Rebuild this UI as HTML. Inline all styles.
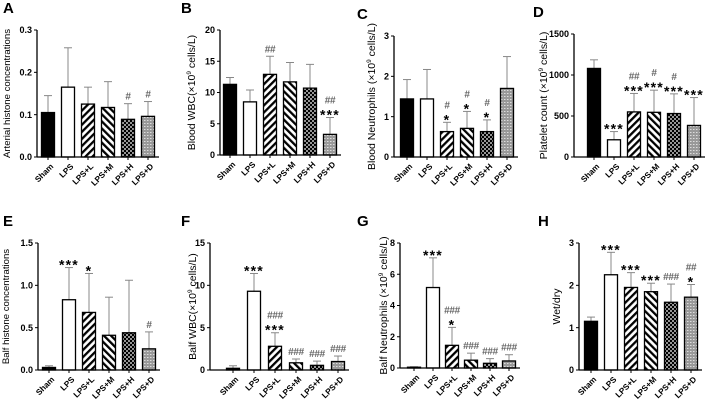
<!DOCTYPE html>
<html><head><meta charset="utf-8"><style>
body{margin:0;background:#fff}
svg{display:block;font-family:"Liberation Sans",Arial,sans-serif}
</style></head><body>
<svg id="fig" width="708" height="405" viewBox="0 0 708 405">
<defs>
<pattern id="pL" width="5" height="5" patternUnits="userSpaceOnUse" patternTransform="rotate(45)"><rect width="5" height="5" fill="#fff"/><rect width="2.3" height="5" fill="#000"/></pattern>
<pattern id="pM" width="5" height="5" patternUnits="userSpaceOnUse" patternTransform="rotate(-45)"><rect width="5" height="5" fill="#fff"/><rect width="2.3" height="5" fill="#000"/></pattern>
<pattern id="pH" width="4" height="4" patternUnits="userSpaceOnUse"><rect width="4" height="4" fill="#000"/><circle cx="1" cy="1" r="0.9" fill="#fff"/><circle cx="3" cy="3" r="0.9" fill="#fff"/></pattern>
<pattern id="pD" width="3" height="3" patternUnits="userSpaceOnUse"><rect width="3" height="3" fill="#999"/><rect x="0" y="0" width="1.5" height="1" fill="#ddd"/></pattern>
</defs>
</svg>
<script>
const groups=["Sham","LPS","LPS+L","LPS+M","LPS+H","LPS+D"];
const fills=["#000","#fff","url(#pL)","url(#pM)","url(#pH)","url(#pD)"];
const valA=[0.105,0.165,0.125,0.117,0.089,0.096], errA=[0.145,0.258,0.165,0.178,0.126,0.131];
const valB=[11.3,8.5,12.9,11.7,10.7,3.3], errB=[12.4,10.4,15.8,14.8,14.5,6.0];
const valC=[1.44,1.44,0.63,0.71,0.63,1.7], errC=[1.92,2.17,0.86,1.13,0.92,2.49];
const valD=[1080,210,550,545,530,385], errD=[1185,310,775,815,770,725];
const valE=[0.03,0.83,0.68,0.41,0.44,0.25], errE=[0.05,1.21,1.14,0.86,1.06,0.45];
const valF=[0.2,9.3,2.8,0.85,0.55,1.0], errF=[0.5,11.4,4.4,1.3,1.05,1.65];
const valG=[0.05,5.15,1.45,0.5,0.3,0.45], errG=[0.08,7.05,2.6,0.95,0.6,0.85];
const valH=[1.15,2.25,1.95,1.85,1.6,1.72], errH=[1.25,2.78,2.3,2.05,2.03,2.02];
const tickA=[0,0.1,0.2,0.3], tickLA=["0.0","0.1","0.2","0.3"];
const tickB=[0,5,10,15,20], tickC=[0,1,2,3], tickD=[0,500,1000,1500];
const tickE=[0,0.5,1,1.5], tickLE=["0.0","0.5","1.0","1.5"];
const tickF=[0,5,10,15], tickG=[0,2,4,6,8], tickH=[0,1,2,3];
const annA=[[],[],[],[],["#"],["#"]];
const annB=[[],[],["##"],[],[],["##","***"]];
const annC=[[],[],["#","*"],["#","*"],["#","*"],[]];
const annD=[[],["***"],["##","***"],["#","***"],["#","***"],["***"]];
const annE=[[],["***"],["*"],[],[],["#"]];
const annF=[[],["***"],["###","***"],["###"],["###"],["###"]];
const annG=[[],["***"],["###","*"],["###"],["###"],["###"]];
const annH=[[],["***"],["***"],["***"],["###"],["##","*"]];
const NS="http://www.w3.org/2000/svg";
const svg=document.getElementById('fig');
function mk(t,a,p){const e=document.createElementNS(NS,t);for(const k in a)e.setAttribute(k,a[k]);(p||svg).appendChild(e);return e;}
const panels=[
{id:"A",vals:valA,errs:errA,ticks:tickA,tl:tickLA,ann:annA,ax:37,top:30,bot:157,x0:48,dx:20,lx:3,tx:7,title:["Arterial histone concentrations"]},
{id:"B",vals:valB,errs:errB,ticks:tickB,ann:annB,ax:220,top:30,bot:155,x0:230,dx:20,lx:181,tx:192,title:["Blood WBC(×10","9"," cells/L)"]},
{id:"C",vals:valC,errs:errC,ticks:tickC,ann:annC,ax:394,top:36,bot:157,x0:407,dx:20,lx:357,tx:372,title:["Blood Neutrophils (×10","9"," cells/L)"]},
{id:"D",vals:valD,errs:errD,ticks:tickD,ann:annD,ax:574,top:34,bot:157,x0:594,dx:20,lx:533,tx:544,title:["Platelet count (×10","9"," cells/L)"]},
{id:"E",vals:valE,errs:errE,ticks:tickE,tl:tickLE,ann:annE,ax:38,top:243,bot:370,x0:49,dx:20,lx:3,tx:6,title:["Balf histone concentrations"]},
{id:"F",vals:valF,errs:errF,ticks:tickF,ann:annF,ax:210,top:243,bot:370,x0:233,dx:21,lx:181,tx:193,title:["Balf WBC(×10","9"," cells/L)"]},
{id:"G",vals:valG,errs:errG,ticks:tickG,ann:annG,ax:400,top:243,bot:368,x0:414,dx:19,lx:357,tx:384,title:["Balf Neutrophils (×10","9"," cells/L)"]},
{id:"H",vals:valH,errs:errH,ticks:tickH,ann:annH,ax:579,top:243,bot:370,x0:591,dx:20,lx:538,tx:557,title:["Wet/dry"]}
];
panels.forEach(p=>{
  const g=mk('g',{});
  
  
  const max=p.ticks[p.ticks.length-1];
  const y=v=>p.bot-(v/max)*(p.bot-p.top);
  const x=i=>p.x0+i*p.dx;
  const lab=mk('text',{x:p.lx,y:p.top-17,'font-size':15,'font-weight':'bold'},g);lab.textContent=p.id;
  
  
  const cy=(p.top+p.bot)/2;
  const t=mk('text',{x:p.tx,y:cy,'font-size':p.title[0].length>26?9.6:10.5,'text-anchor':'middle','dominant-baseline':'central',transform:`rotate(-90 ${p.tx} ${cy})`},g);
  
  
  p.title.forEach((s,k)=>{const ts=mk('tspan',k==1?{'font-size':6.5,dy:-3}:(k==2?{dy:3}:{}),t);ts.textContent=s;});
  p.vals.forEach((v,i)=>{
    const cx=x(i);
    const e=mk('line',{x1:cx,x2:cx,y1:y(v),y2:y(p.errs[i]),stroke:'#888','stroke-width':1},g);
    
    
    mk('line',{x1:cx-4,x2:cx+4,y1:y(p.errs[i]),y2:y(p.errs[i]),stroke:'#888','stroke-width':1},g);
    const r=mk('rect',{x:cx-6.5,y:y(v),width:13,height:p.bot-y(v),fill:fills[i],stroke:'#000','stroke-width':1.3},g);
    
    
    let yy=y(p.errs[i])-4;
    p.ann[i].slice().reverse().forEach(s=>{
      const star=s[0]=='*';
      const a=mk('text',{x:cx,y:yy+(star?6:0),'text-anchor':'middle','font-size':star?14:10,'font-weight':'bold',fill:star?'#000':'#666','letter-spacing':star?1.2:-0.3},g);
      a.textContent=s;
      
      
      yy-=10;
    });
    const xl=mk('text',{x:cx+2,y:p.bot+6,'font-size':8.2,'text-anchor':'end','font-weight':'bold',transform:`rotate(-45 ${cx+2} ${p.bot+6})`,'dominant-baseline':'hanging'},g);
    xl.textContent=groups[i];
    
    
  });
  const ya=mk('line',{x1:p.ax,x2:p.ax,y1:p.top,y2:p.bot,stroke:'#000','stroke-width':1.3},g);
  
  
  const xa=mk('line',{x1:p.ax,x2:x(5)+11,y1:p.bot,y2:p.bot,stroke:'#000','stroke-width':1.3},g);
  
  
  for(let i=0;i<6;i++)mk('line',{x1:x(i),x2:x(i),y1:p.bot,y2:p.bot+3,stroke:'#000','stroke-width':1},g);
  p.ticks.forEach((tv,k)=>{
    mk('line',{x1:p.ax-3,x2:p.ax,y1:y(tv),y2:y(tv),stroke:'#000','stroke-width':1},g);
    const tt=mk('text',{x:p.ax-5,y:y(tv)+3.2,'font-size':9,'font-weight':'bold','text-anchor':'end'},g);
    tt.textContent=p.tl?p.tl[k]:String(tv);
    
    
  });
});
</script>
</body></html>
